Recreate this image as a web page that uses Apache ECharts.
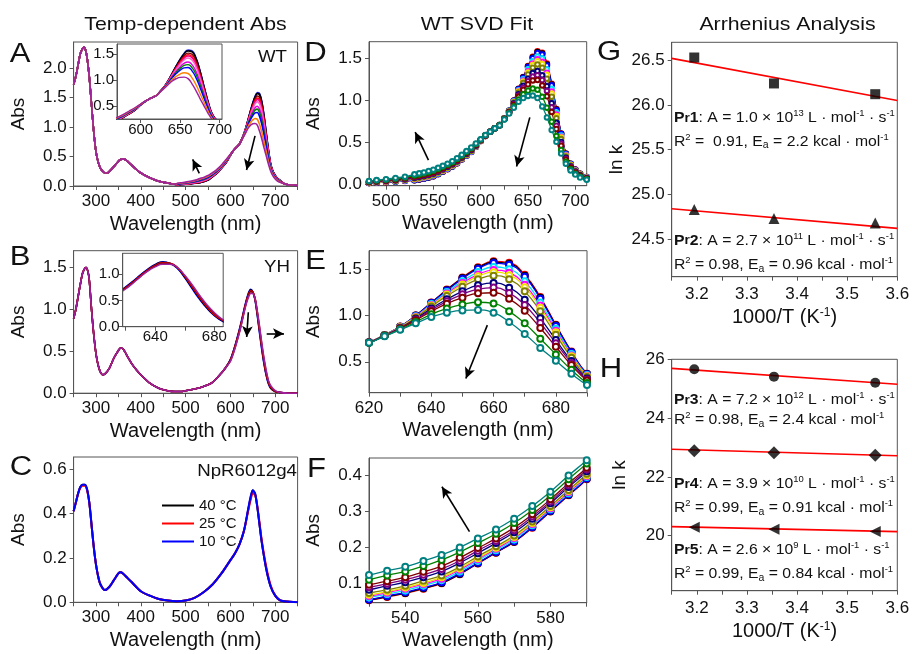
<!DOCTYPE html>
<html><head><meta charset="utf-8">
<script src="https://cdn.jsdelivr.net/npm/echarts@6/dist/echarts.min.js"></script>
<style>html,body{margin:0;padding:0;background:#fff}#c{width:912px;height:654px}</style>
</head><body><div id="c"></div>
<script>
// ---------- WT (panels A, D, E, F) ----------
const wlWT_UV = [250,255,260,265,270,273,276,280,285,290,295,300,305,310,315,320,325,330,340,350,355,360,365,370,380,390,400,420,440,460,475];
const absWT_UV = [1.72,1.86,2.05,2.24,2.33,2.35,2.32,2.18,1.85,1.38,0.92,0.58,0.40,0.30,0.25,0.22,0.22,0.25,0.33,0.42,0.45,0.46,0.45,0.42,0.35,0.28,0.22,0.14,0.08,0.05,0.03];
const wlWT = [482,490,500,510,520,530,535,540,545,550,555,560,565,570,575,580,585,590,595,600,605,610,615,620,625,630,635,640,645,650,655,660,665,670,675,680,685,690,695,700,705,712];
const wt1 = [0.020,0.025,0.030,0.036,0.045,0.053,0.062,0.072,0.085,0.100,0.125,0.155,0.185,0.215,0.255,0.300,0.345,0.390,0.450,0.520,0.580,0.630,0.670,0.710,0.790,0.880,1.000,1.140,1.280,1.410,1.520,1.585,1.570,1.440,1.200,0.900,0.610,0.370,0.250,0.180,0.130,0.090];
const wt2 = [0.020,0.025,0.031,0.037,0.046,0.054,0.063,0.073,0.086,0.101,0.126,0.156,0.186,0.216,0.256,0.301,0.346,0.391,0.451,0.520,0.580,0.630,0.670,0.710,0.790,0.879,0.999,1.138,1.276,1.405,1.513,1.577,1.560,1.430,1.192,0.894,0.606,0.368,0.249,0.179,0.129,0.090];
const wt3 = [0.021,0.026,0.031,0.038,0.047,0.055,0.065,0.075,0.088,0.103,0.128,0.157,0.187,0.217,0.257,0.302,0.347,0.392,0.451,0.521,0.580,0.630,0.670,0.710,0.789,0.879,0.997,1.135,1.271,1.398,1.504,1.566,1.548,1.418,1.181,0.886,0.602,0.366,0.247,0.178,0.128,0.089];
const wt4 = [0.023,0.028,0.034,0.041,0.051,0.061,0.070,0.080,0.094,0.109,0.133,0.163,0.192,0.222,0.262,0.306,0.351,0.396,0.454,0.522,0.581,0.630,0.670,0.709,0.788,0.876,0.991,1.123,1.253,1.371,1.469,1.524,1.500,1.370,1.140,0.857,0.584,0.357,0.241,0.173,0.125,0.087];
const wt5 = [0.024,0.030,0.036,0.043,0.054,0.065,0.074,0.085,0.098,0.113,0.138,0.167,0.196,0.226,0.265,0.309,0.354,0.399,0.457,0.523,0.582,0.630,0.670,0.709,0.787,0.874,0.986,1.114,1.238,1.350,1.442,1.491,1.461,1.331,1.107,0.834,0.569,0.350,0.236,0.170,0.122,0.085];
const wt6 = [0.025,0.031,0.037,0.045,0.056,0.068,0.077,0.088,0.101,0.117,0.141,0.170,0.199,0.229,0.268,0.312,0.357,0.401,0.458,0.524,0.582,0.630,0.670,0.709,0.787,0.873,0.982,1.107,1.228,1.335,1.423,1.468,1.436,1.306,1.085,0.818,0.560,0.345,0.233,0.167,0.121,0.084];
const wt7 = [0.027,0.033,0.040,0.048,0.059,0.073,0.082,0.093,0.107,0.122,0.146,0.175,0.203,0.233,0.272,0.315,0.360,0.405,0.461,0.526,0.583,0.630,0.670,0.709,0.786,0.870,0.976,1.097,1.210,1.311,1.391,1.430,1.391,1.261,1.046,0.791,0.543,0.336,0.228,0.163,0.117,0.082];
const wt8 = [0.031,0.038,0.045,0.054,0.066,0.082,0.093,0.103,0.117,0.133,0.157,0.184,0.212,0.242,0.280,0.323,0.368,0.412,0.467,0.528,0.584,0.630,0.670,0.708,0.784,0.865,0.964,1.075,1.175,1.261,1.327,1.352,1.301,1.171,0.969,0.736,0.509,0.320,0.216,0.155,0.111,0.077];
const wt9 = [0.033,0.040,0.048,0.058,0.071,0.089,0.099,0.110,0.124,0.140,0.163,0.191,0.218,0.248,0.286,0.328,0.373,0.417,0.470,0.530,0.585,0.630,0.670,0.707,0.782,0.862,0.957,1.061,1.153,1.229,1.285,1.302,1.244,1.114,0.920,0.701,0.488,0.309,0.209,0.149,0.107,0.075];
const wt10 = [0.035,0.043,0.051,0.063,0.076,0.096,0.106,0.117,0.132,0.148,0.171,0.198,0.225,0.255,0.292,0.334,0.379,0.422,0.474,0.532,0.586,0.630,0.670,0.707,0.781,0.859,0.948,1.045,1.128,1.193,1.239,1.246,1.180,1.050,0.865,0.662,0.464,0.297,0.201,0.143,0.103,0.072];
const wt11 = [0.041,0.050,0.059,0.072,0.086,0.110,0.122,0.133,0.148,0.165,0.187,0.212,0.238,0.268,0.304,0.345,0.390,0.434,0.483,0.536,0.588,0.630,0.670,0.706,0.778,0.851,0.930,1.013,1.075,1.119,1.143,1.130,1.045,0.915,0.749,0.580,0.413,0.272,0.184,0.131,0.093,0.065];
const wt12 = [0.045,0.055,0.065,0.080,0.095,0.123,0.135,0.146,0.162,0.179,0.200,0.225,0.250,0.280,0.315,0.355,0.400,0.443,0.490,0.540,0.590,0.630,0.670,0.705,0.775,0.845,0.915,0.985,1.030,1.055,1.060,1.030,0.930,0.800,0.650,0.510,0.370,0.250,0.170,0.120,0.085,0.060];
const wtTailWl = [720,730,750];
const wtTailAbs = [0.04,0.02,0.01];

// ---------- YH (panel B) ----------
const wlYH_UV = [250,255,260,265,270,275,278,282,285,290,295,300,305,310,315,320,330,340,350,355,360,365,370,380,390,400,420,440,460,475,490,500,520,540,560,580,590];
const absYH_UV = [0.89,1.00,1.15,1.30,1.43,1.49,1.50,1.45,1.35,1.00,0.70,0.47,0.33,0.25,0.22,0.23,0.30,0.42,0.51,0.54,0.53,0.49,0.44,0.35,0.28,0.22,0.12,0.06,0.03,0.02,0.02,0.03,0.05,0.08,0.13,0.24,0.31];
const wlYH = [600,610,620,625,630,635,640,645,650,655,660,665,670,675,680,685,690,700,710,730,750];
const yh1 = [0.40,0.56,0.76,0.87,0.99,1.10,1.19,1.24,1.21,1.11,0.93,0.72,0.52,0.35,0.21,0.11,0.06,0.02,0.01,0.0,0.0];
const yh2 = [0.40,0.56,0.75,0.86,0.98,1.09,1.18,1.23,1.21,1.12,0.94,0.74,0.54,0.36,0.22,0.12,0.06,0.02,0.01,0.0,0.0];
const yh3 = [0.39,0.55,0.74,0.85,0.97,1.08,1.17,1.22,1.21,1.13,0.96,0.76,0.56,0.38,0.23,0.13,0.07,0.02,0.01,0.0,0.0];
const yh4 = [0.39,0.54,0.73,0.84,0.96,1.07,1.16,1.21,1.20,1.13,0.97,0.78,0.58,0.40,0.25,0.14,0.08,0.02,0.01,0.0,0.0];
const yh5 = [0.38,0.53,0.72,0.83,0.95,1.06,1.14,1.19,1.19,1.13,0.98,0.80,0.60,0.42,0.27,0.15,0.09,0.03,0.01,0.0,0.0];

// ---------- NpR6012g4 (panel C) ----------
const wlC = [250,255,260,265,270,275,280,285,290,295,300,305,310,320,330,340,350,355,360,370,380,400,420,440,460,480,500,520,540,560,580,600,610,620,630,640,645,650,655,660,665,670,680,690,700,710,720,750];
const c40 = [0.41,0.45,0.49,0.52,0.53,0.53,0.51,0.45,0.35,0.25,0.17,0.115,0.08,0.055,0.07,0.10,0.13,0.135,0.13,0.11,0.09,0.05,0.03,0.015,0.008,0.005,0.008,0.02,0.045,0.08,0.13,0.19,0.22,0.26,0.32,0.42,0.47,0.505,0.49,0.43,0.35,0.27,0.15,0.07,0.03,0.01,0.005,0.0];
const c25 = [0.41,0.45,0.49,0.515,0.525,0.525,0.505,0.45,0.35,0.25,0.17,0.115,0.08,0.055,0.07,0.10,0.13,0.135,0.13,0.11,0.09,0.05,0.03,0.015,0.008,0.005,0.008,0.02,0.045,0.08,0.13,0.19,0.22,0.26,0.32,0.415,0.46,0.49,0.485,0.435,0.36,0.28,0.16,0.075,0.03,0.01,0.005,0.0];
const c10 = [0.41,0.45,0.49,0.52,0.53,0.53,0.51,0.45,0.35,0.25,0.17,0.115,0.08,0.055,0.07,0.10,0.13,0.135,0.13,0.11,0.09,0.05,0.03,0.015,0.008,0.005,0.008,0.02,0.045,0.08,0.13,0.19,0.22,0.26,0.32,0.425,0.475,0.505,0.49,0.43,0.35,0.27,0.15,0.07,0.03,0.01,0.005,0.0];
const cNames = ['40 °C','25 °C','10 °C'];

// ---------- Arrhenius (panels G, H) ----------
const invT = [3.195, 3.354, 3.556];
const lnkPr1 = [26.53, 26.24, 26.12];
const lnkPr2 = [24.83, 24.73, 24.68];
const lnkPr3 = [25.66, 25.41, 25.20];
const lnkPr4 = [22.89, 22.82, 22.74];
const lnkPr5 = [20.29, 20.22, 20.14];
const fitX = [3.15, 3.6];
const fitPr1 = [26.52, 26.05];
const fitPr2 = [24.84, 24.62];
const fitPr3 = [25.69, 25.15];
const fitPr4 = [22.94, 22.72];
const fitPr5 = [20.31, 20.14];

// ---------- ticks / labels ----------
const xTicksA = [250,300,350,400,450,500,550,600,650,700,750];
const xLabelsA = [300,400,500,600,700];
const yTicksA = [0,0.5,1,1.5,2];
const xTicksAin = [600,650,700];
const yTicksAin = [0.5,1,1.5];
const yTicksB = [0,0.5,1,1.5];
const xTicksBin = [620,640,660,680];
const xLabelsBin = [640,680];
const yTicksBin = [0,0.5,1];
const yTicksC = [0,0.2,0.4,0.6];
const xTicksD = [500,525,550,575,600,625,650,675,700];
const xLabelsD = [500,550,600,650,700];
const yTicksD = [0,0.5,1,1.5];
const xTicksE = [620,630,640,650,660,670,680,690];
const xLabelsE = [620,640,660,680];
const yTicksE = [0.5,1,1.5];
const xTicksF = [530,540,550,560,570,580,590];
const xLabelsF = [540,560,580];
const yTicksF = [0.1,0.2,0.3,0.4];
const xTicksGH = [3.15,3.2,3.25,3.3,3.35,3.4,3.45,3.5,3.55,3.6];
const xLabelsGH = [3.2,3.3,3.4,3.5,3.6];
const yTicksG = [24.5,25,25.5,26,26.5];
const yTicksH = [20,22,24,26];

// annotation arrows (data coords: x1,y1 -> x2,y2)
const arrowsA = [[530.6,0.215,515.8,0.45],[655,0.85,636,0.27]];
const arrowsAin = [[582.3,0.46,576,0.65],[655.2,1.0,643.4,0.37]];
const arrowsB = [[640,0.966,636.4,0.67],[681,0.71,719.6,0.71]];
const arrowsBin = [[647.8,0.886,658,0.57],[671.6,0.71,682.8,0.71]];
const arrowsD = [[544.8,0.293,530.8,0.626],[651.9,0.80,637.9,0.216]];
const arrowsE = [[658,0.896,651.1,0.32]];
const arrowsF = [[557.7,0.244,550.1,0.369]];

// ---------- build ----------
const FONT = '"Liberation Sans", Arial, Helvetica, sans-serif';
const AX = '#555';
const wtCurves = [wt1,wt2,wt3,wt4,wt5,wt6,wt7,wt8,wt9,wt10,wt11,wt12];
const yhCurves = [yh1,yh2,yh3,yh4,yh5];
const colA = ['#5a5aff','#000080','#000000','#800000','#ff0000','#ff0080','#ff66cc','#e000e0','#008000','#0000ff','#ff8000','#a020a0'];
const colD = ['#ff0000','#000000','#0000ff','#00e0ff','#ff00ff','#f0e000','#808000','#000080','#800080','#800000','#008000','#008080'];
const colB = ['#0000ff','#000000','#ff0000','#800000','#a020a0'];
const colC = ['#000000','#ff0000','#0000ff'];

function pairs(xs, ys){ return xs.map((x,i)=>[x, ys[i]]); }
const f0 = v => String(Math.round(v*100)/100);
const f1 = v => v.toFixed(1);

function mkAxis(o){
  return {
    type:'value', gridIndex:o.g, min:o.min, max:o.max, z:o.z||0,
    axisLine:{show:true,onZero:false,lineStyle:{color:AX,width:1}},
    axisTick:{show:true,inside:false,length:4,customValues:o.ticks,lineStyle:{color:AX,width:1}},
    axisLabel:{show:true,customValues:o.labels||o.ticks,formatter:o.fmt,color:'#111',fontSize:o.fs||17,fontFamily:FONT,margin:o.m==null?7:o.m},
    splitLine:{show:false},
    name:o.name||'', nameLocation:'middle', nameGap:o.ng||30,
    nameTextStyle:{fontSize:o.nfs||20,color:'#111',fontFamily:FONT,lineHeight:22,rich:{s:{fontSize:12,verticalAlign:'top',lineHeight:22,fontFamily:FONT,color:'#111'}}}
  };
}
function arrowML(list){
  return {silent:true, symbol:['none','arrow'], symbolSize:[8,11], animation:false,
    lineStyle:{color:'#000',width:1.6,type:'solid'}, label:{show:false},
    data:list.map(a=>[{coord:[a[0],a[1]]},{coord:[a[2],a[3]]}])};
}

const WL = 'Wavelength (nm)';
const grids = [
  {left:73.6, top:42, width:224, height:144},
  {left:117, top:44, width:105, height:75, z:10, backgroundColor:'#fff'},
  {left:73.6, top:250.7, width:224, height:142.5},
  {left:122.7, top:253.3, width:100.5, height:73.4, z:10, backgroundColor:'#fff'},
  {left:73.6, top:457, width:224, height:145.3},
  {left:369, top:41.7, width:217.7, height:144},
  {left:369, top:250.7, width:218, height:142},
  {left:369, top:458, width:217.7, height:144.7},
  {left:671.7, top:42.3, width:225.6, height:234.4},
  {left:671.7, top:359.3, width:225.6, height:231.4}
].map(g=>Object.assign({show:true, borderColor:AX, borderWidth:1, containLabel:false, outerBoundsMode:'none'}, g));

const xAxes = [
  mkAxis({g:0,min:250,max:750,ticks:xTicksA,labels:xLabelsA,fmt:f0,name:WL,ng:27}),
  mkAxis({g:1,min:570,max:703,ticks:xTicksAin,fmt:f0,fs:15,m:3,z:12}),
  mkAxis({g:2,min:250,max:750,ticks:xTicksA,labels:xLabelsA,fmt:f0,name:WL,ng:27}),
  mkAxis({g:3,min:618,max:686,ticks:xTicksBin,labels:xLabelsBin,fmt:f0,fs:15,m:3,z:12}),
  mkAxis({g:4,min:250,max:750,ticks:xTicksA,labels:xLabelsA,fmt:f0,name:WL,ng:27}),
  mkAxis({g:5,min:482,max:712,ticks:xTicksD,labels:xLabelsD,fmt:f0,name:WL,ng:27}),
  mkAxis({g:6,min:620,max:690,ticks:xTicksE,labels:xLabelsE,fmt:f0,name:WL,ng:27}),
  mkAxis({g:7,min:530,max:590,ticks:xTicksF,labels:xLabelsF,fmt:f0,name:WL,ng:27}),
  mkAxis({g:8,min:3.15,max:3.6,ticks:xTicksGH,labels:xLabelsGH,fmt:f1,name:'1000/T (K{s|-1})',ng:30,m:9}),
  mkAxis({g:9,min:3.15,max:3.6,ticks:xTicksGH,labels:xLabelsGH,fmt:f1,name:'1000/T (K{s|-1})',ng:30,m:9})
];
const yAxes = [
  mkAxis({g:0,min:0,max:2.44,ticks:yTicksA,fmt:f1,name:'Abs',ng:44,nfs:19}),
  mkAxis({g:1,min:0.25,max:1.7,ticks:yTicksAin,fmt:f1,fs:15,m:3,z:12}),
  mkAxis({g:2,min:0,max:1.7,ticks:yTicksB,fmt:f1,name:'Abs',ng:44,nfs:19}),
  mkAxis({g:3,min:0,max:1.4,ticks:yTicksBin,fmt:f1,fs:15,m:3,z:12}),
  mkAxis({g:4,min:0,max:0.655,ticks:yTicksC,fmt:f1,name:'Abs',ng:44,nfs:19}),
  mkAxis({g:5,min:-0.012,max:1.70,ticks:yTicksD,fmt:f1,name:'Abs',ng:44,nfs:19}),
  mkAxis({g:6,min:0.166,max:1.70,ticks:yTicksE,fmt:f1,name:'Abs',ng:44,nfs:19}),
  mkAxis({g:7,min:0.046,max:0.449,ticks:yTicksF,fmt:f1,name:'Abs',ng:44,nfs:19}),
  mkAxis({g:8,min:24.08,max:26.70,ticks:yTicksG,fmt:f1,name:'ln k',ng:41,nfs:19}),
  mkAxis({g:9,min:18.13,max:26,ticks:yTicksH,fmt:f0,name:'ln k',ng:41,nfs:19})
];

const series = [];
function addLine(ax, data, color, extra){
  series.push(Object.assign({type:'line', xAxisIndex:ax, yAxisIndex:ax, data:data, symbol:'none', smooth:0.3,
    lineStyle:{color:color,width:1.6}, itemStyle:{color:color}, z:2, clip:true, animation:false}, extra||{}));
}
// A main + inset
wtCurves.forEach((c,k)=>{
  const last = k===wtCurves.length-1;
  addLine(0, pairs(wlWT_UV.concat(wlWT, wtTailWl), absWT_UV.concat(c, wtTailAbs)), colA[k], last?{markLine:arrowML(arrowsA)}:{});
});
wtCurves.forEach((c,k)=>{
  const last = k===wtCurves.length-1;
  addLine(1, pairs(wlWT, c), colA[k], Object.assign({z:11, smooth:0.5, lineStyle:{color:colA[k],width:1.4}}, last?{markLine:arrowML(arrowsAin)}:{}));
});
// B main + inset
yhCurves.forEach((c,k)=>{
  const last = k===yhCurves.length-1;
  addLine(2, pairs(wlYH_UV.concat(wlYH), absYH_UV.concat(c)), colB[k], last?{markLine:arrowML(arrowsB)}:{});
});
yhCurves.forEach((c,k)=>{
  const last = k===yhCurves.length-1;
  addLine(3, pairs(wlYH, c), colB[k], Object.assign({z:11, smooth:0.5, lineStyle:{color:colB[k],width:1.4}}, last?{markLine:arrowML(arrowsBin)}:{}));
});
// C
[c40,c25,c10].forEach((c,k)=>{
  addLine(4, pairs(wlC, c), colC[k], {name:cNames[k], lineStyle:{color:colC[k],width:2}});
});
// D, E, F (SVD fit: data circles + fit lines)
[[5,arrowsD,4.5],[6,arrowsE,6],[7,arrowsF,6]].forEach(([ax,arr,sz])=>{
  wtCurves.forEach((c,k)=>{
    const last = k===wtCurves.length-1;
    addLine(ax, pairs(wlWT, c), colD[k], Object.assign({symbol:'emptyCircle', showSymbol:true, symbolSize:sz, smooth:0.5,
      itemStyle:{color:colD[k], borderColor:colD[k], borderWidth:1}, lineStyle:{color:colD[k],width:1.3}}, last?{markLine:arrowML(arr)}:{}));
  });
});
// G, H
function addFit(ax, ys){ addLine(ax, pairs(fitX, ys), '#ff0000', {smooth:false, lineStyle:{color:'#ff0000',width:1.6}}); }
function addPts(ax, ys, sym, size, rot){
  series.push({type:'scatter', xAxisIndex:ax, yAxisIndex:ax, data:pairs(invT, ys), symbol:sym, symbolSize:size,
    symbolRotate:rot||0, itemStyle:{color:'#000'}, z:4, animation:false});
}
addFit(8, fitPr1); addFit(8, fitPr2);
addPts(8, lnkPr1, 'rect', 10); addPts(8, lnkPr2, 'triangle', 11);
addFit(9, fitPr3); addFit(9, fitPr4); addFit(9, fitPr5);
addPts(9, lnkPr3, 'circle', 10); addPts(9, lnkPr4, 'diamond', 13); addPts(9, lnkPr5, 'triangle', 11, 90);

// ---------- text ----------
const titles = [['Temp-dependent Abs',185.5,25],['WT SVD Fit',477,25],['Arrhenius Analysis',787.5,25]];
const letters = [['A',20,55],['B',20,258],['C',21,468],['D',315.5,54],['E',315.5,262],['F',316.5,470],['G',609,53],['H',611,370]];
const samples = [['WT',287,57.5],['YH',290,267],['NpR6012g4',297,471]];
const notes = [
  [118,'{b|P}{bs|r}{b|1}{t|: A = 1.0 × 10}{sup|13}{t| L · mol}{sup|-1}{t| · s}{sup|-1}'],
  [141.7,'{t|R}{sup|2}{t| =  0.91, E}{sub|a}{t| = 2.2 kcal · mol}{sup|-1}'],
  [240.7,'{b|P}{bs|r}{b|2}{t|: A = 2.7 × 10}{sup|11}{t| L · mol}{sup|-1}{t| · s}{sup|-1}'],
  [265,'{t|R}{sup|2}{t| = 0.98, E}{sub|a}{t| = 0.96 kcal · mol}{sup|-1}'],
  [400,'{b|P}{bs|r}{b|3}{t|: A = 7.2 × 10}{sup|12}{t| L · mol}{sup|-1}{t| · s}{sup|-1}'],
  [420,'{t|R}{sup|2}{t| = 0.98, E}{sub|a}{t| = 2.4 kcal · mol}{sup|-1}'],
  [484.3,'{b|P}{bs|r}{b|4}{t|: A = 3.9 × 10}{sup|10}{t| L · mol}{sup|-1}{t| · s}{sup|-1}'],
  [508.3,'{t|R}{sup|2}{t| = 0.99, E}{sub|a}{t| = 0.91 kcal · mol}{sup|-1}'],
  [550,'{b|P}{bs|r}{b|5}{t|: A = 2.6 × 10}{sup|9}{t| L · mol}{sup|-1}{t| · s}{sup|-1}'],
  [574,'{t|R}{sup|2}{t| = 0.99, E}{sub|a}{t| = 0.84 kcal · mol}{sup|-1}']
];
const rich = {
  t:{fontSize:15,fontFamily:FONT,fill:'#111',lineHeight:18},
  b:{fontSize:15,fontFamily:FONT,fontWeight:'bold',fill:'#111',lineHeight:18},
  bs:{fontSize:13,fontFamily:FONT,fontWeight:'bold',fill:'#111',lineHeight:18},
  sup:{fontSize:9,fontFamily:FONT,fill:'#111',lineHeight:18,verticalAlign:'top'},
  sub:{fontSize:10,fontFamily:FONT,fill:'#111',lineHeight:18,verticalAlign:'bottom'}
};
function txt(t,x,y,size,align,sx){
  return {type:'text', x:x, y:y, z:100, silent:true, scaleX:sx||1,
    style:{text:t, fill:'#111', fontSize:size, fontFamily:FONT, align:align||'center', verticalAlign:'middle',
      textAlign:align||'center', textVerticalAlign:'middle'}};
}
const graphic = [];
titles.forEach(a=>graphic.push(txt(a[0],a[1],a[2],19,'center',1.12)));
letters.forEach(a=>graphic.push(txt(a[0],a[1],a[2],27,'center',1.15)));
samples.forEach(a=>graphic.push(txt(a[0],a[1],a[2],17,'right',1.1)));
notes.forEach(a=>graphic.push({type:'text', x:674, y:a[0], z:100, silent:true, scaleX:1.05,
  style:{text:a[1], rich:rich, fill:'#111', fontSize:15, fontFamily:FONT, align:'left', verticalAlign:'middle', textAlign:'left', textVerticalAlign:'middle'}}));

const chart = echarts.init(document.getElementById('c'), null, {renderer:'canvas'});
chart.setOption({
  animation:false,
  backgroundColor:'#fff',
  grid:grids, xAxis:xAxes, yAxis:yAxes, series:series,
  legend:{data:cNames, orient:'vertical', left:157, top:492, icon:'rect', itemWidth:32, itemHeight:2, itemGap:1,
    textStyle:{fontSize:15, fontFamily:FONT, color:'#111', lineHeight:17}, selectedMode:false},
  graphic:graphic
});
</script></body></html>
